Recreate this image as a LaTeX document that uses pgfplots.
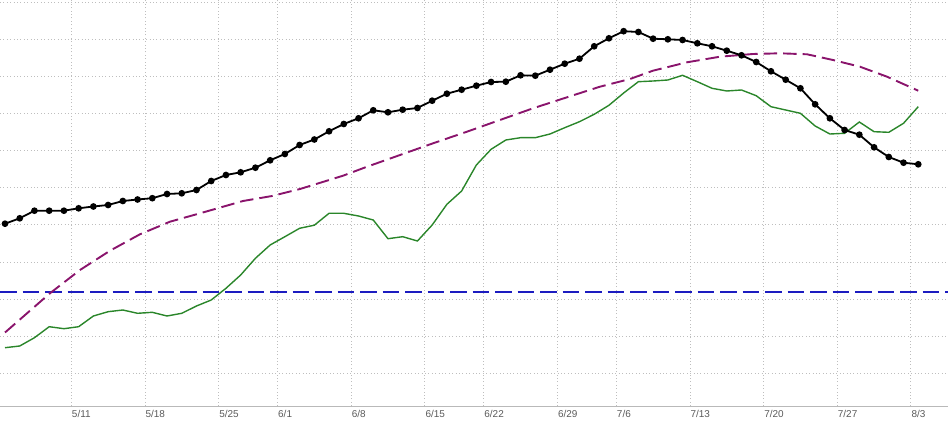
\documentclass[border=0pt]{standalone}
\usepackage{pgfplots}
\pgfplotsset{compat=1.18}
\usepackage{fontspec}
\setmainfont{Liberation Sans}
\definecolor{cblack}{HTML}{000000}
\definecolor{cgreen}{HTML}{2A862A}
\definecolor{cpurple}{HTML}{8A146C}
\definecolor{cblue}{HTML}{1C1CC0}
\definecolor{cgrid}{HTML}{BEBEBE}
\definecolor{clabel}{HTML}{5A5A5A}
\begin{document}
\begin{tikzpicture}
\begin{axis}[
  name=ax,
  scale only axis,
  width=948bp, height=406bp,
  xmin=-0.34, xmax=64.02,
  ymin=0, ymax=406,
  axis x line=bottom,
  axis y line=left,
  x axis line style={-, draw=gray!55, line width=0.9bp},
  y axis line style={draw=none},
  xtick={4.5,9.5,14.5,18.5,23.5,28.5,32.5,37.5,41.5,46.5,51.5,56.5,61.5},
  xticklabels={5/11,5/18,5/25,6/1,6/8,6/15,6/22,6/29,7/6,7/13,7/20,7/27,8/3},
  ytick={32.7,69.83,106.96,144.09,181.22,218.35,255.48,292.61,329.74,366.87,404},
  yticklabels={},
  major tick length=0pt,
  xmajorgrids, ymajorgrids,
  grid style={dash pattern=on 0.9bp off 2.5bp, draw=cgrid, line width=0.8bp},
  xticklabel style={anchor=north west, inner sep=0pt, xshift=0.5bp, yshift=-4bp,
    font=\fontsize{10}{12}\selectfont, text=clabel},
  clip=false,
]
% blue reference line
\addplot[cblue, line width=1.9bp, dash pattern=on 16.5bp off 6bp] coordinates {(-0.34,113.7) (64.02,113.7)};
% purple dashed curve
\addplot[cpurple, line width=1.9bp, dash pattern=on 13.5bp off 6bp] coordinates {
(0,73.5) (3.05,112.7) (5.09,136) (7.13,155.3) (9.16,171.7) (11.2,184.3) (13.24,192.7)
(16.16,205) (18.13,210) (20.03,217) (22.95,230.3) (24.58,239.3) (26.82,251) (29.06,262.7)
(31.36,274.3) (33.6,286) (35.85,297.7) (38.15,308.7) (40.39,319.3) (42.43,327) (43.99,335.3)
(46.3,343.7) (48.54,349.3) (50.78,352) (52.61,352.7) (54.45,351.7) (56.21,346) (58.04,339.3)
(59.88,329.3) (62,315.3)};
% green line
\addplot[cgreen, line width=1.4bp] coordinates {
(0,58.3) (1,60) (2,68.3) (3,79.3) (4,77.3) (5,79.3) (6,90) (7,94.3) (8,96) (9,92.7)
(10,93.7) (11,90) (12,92.7) (13,100) (14,106) (15,117.7) (16,131) (17,147.7) (18,161) (19,169.3)
(20,177.7) (21,180.8) (22,192.7) (23,192.7) (24,190) (25,186) (26,167.3) (27,169.3) (28,165) (29,181)
(30,201.7) (31,215) (32,241) (33,256.7) (34,266) (35,268.3) (36,268.3) (37,272) (38,278.3) (39,284.3)
(40,291.7) (41,300.7) (42,313) (43,324.3) (44,325) (45,326) (46,330.7) (47,324.3) (48,317.7) (49,315)
(50,316) (51,310.3) (52,299.3) (53,296) (54,292.7) (55,280) (56,272) (57,272.7) (58,284) (59,274.3)
(60,273.7) (61,282.7) (62,299.3)};
% black line with dots
\addplot[cblack, line width=1.8bp, mark=*, mark size=2.4bp, mark options={solid, fill=black}] coordinates {
(0,182.3) (1,187.7) (2,195.3) (3,195.3) (4,195.3) (5,197.7) (6,199.5) (7,201) (8,205) (9,206.5)
(10,207.8) (11,212) (12,212.7) (13,216) (14,225) (15,231) (16,233.7) (17,238.3) (18,245.7) (19,252)
(20,261) (21,266.5) (22,274.7) (23,282) (24,287.7) (25,295.7) (26,293.7) (27,296.3) (28,298) (29,305.3)
(30,312.3) (31,316.3) (32,320.3) (33,324) (34,324.3) (35,330.7) (36,330.3) (37,336.3) (38,342.3) (39,347.3)
(40,359.7) (41,367.7) (42,374.8) (43,374) (44,367.3) (45,366.7) (46,366) (47,362.7) (48,359.7) (49,355.3)
(50,350.7) (51,344) (52,334.7) (53,326.3) (54,317.7) (55,301.7) (56,287.7) (57,276) (58,271.3) (59,258.7)
(60,249) (61,243.3) (62,241.7)};
\end{axis}
\pgfresetboundingbox
\path (ax.south west) ++(0,-16bp) rectangle (ax.north east);
\end{tikzpicture}
\end{document}
